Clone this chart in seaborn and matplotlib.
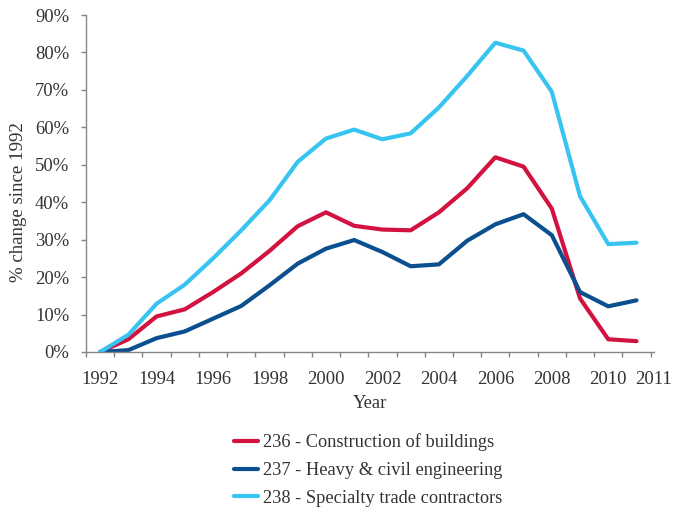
import numpy as np
import pandas as pd
import matplotlib
matplotlib.use('Agg')
import matplotlib.pyplot as plt
import seaborn as sns

# data (percent change since 1992)
years = list(range(1992, 2012))
construction = [0, 3.4, 9.5, 11.4, 16.0, 21.0, 27.0, 33.6, 37.3, 33.7,
                32.7, 32.5, 37.3, 43.7, 52.0, 49.5, 38.3, 14.3, 3.4, 2.9]
heavy_civil = [0, 0.5, 3.7, 5.5, 8.9, 12.3, 17.8, 23.6, 27.6, 29.9,
               26.7, 22.9, 23.4, 29.7, 34.1, 36.8, 31.2, 16.0, 12.2, 13.8]
specialty = [0, 4.6, 12.9, 18.0, 25.0, 32.5, 40.5, 50.8, 57.0, 59.4,
             56.8, 58.4, 65.3, 73.7, 82.6, 80.5, 69.5, 41.6, 28.8, 29.2]

series_names = ['236 - Construction of buildings',
                '237 - Heavy & civil engineering',
                '238 - Specialty trade contractors']
colors = ['#D2123F', '#0B4F8F', '#38C4F0']

df = pd.DataFrame({
    'Year': years * 3,
    'pct': construction + heavy_civil + specialty,
    'series': [series_names[0]] * 20 + [series_names[1]] * 20 + [series_names[2]] * 20,
})

sns.set_style('white')
plt.rcParams['font.family'] = ['Liberation Serif', 'DejaVu Serif']
text_color = '#333333'
axis_color = '#868686'
fs = 13.4

fig = plt.figure(figsize=(6.76, 5.08), dpi=100)
ax = fig.add_axes([86 / 676, 1 - 352 / 508, 568 / 676, 337 / 508])

sns.lineplot(data=df, x='Year', y='pct', hue='series', palette=colors,
             linewidth=3.0, ax=ax, legend=True)

ax.set_xlim(1991.5, 2011.5)
ax.set_ylim(0, 90)

# y axis
ax.set_yticks(np.arange(0, 91, 10))
ax.set_yticklabels([f'{v}%' for v in range(0, 91, 10)])
ax.tick_params(axis='y', which='major', length=3.6, width=1, color=axis_color,
               direction='out', pad=8.5, labelsize=fs, labelcolor=text_color, left=True)

# x axis: tick marks between categories, labels on categories
ax.set_xticks(list(range(1992, 2011, 2)) + [2011.62])
ax.set_xticklabels([str(y) for y in range(1992, 2011, 2)] + ['2011'])
ax.set_xticks(np.arange(1991.5, 2012, 1), minor=True)
ax.tick_params(axis='x', which='major', length=0, pad=14, labelsize=fs,
               labelcolor=text_color)
ax.tick_params(axis='x', which='minor', length=3.6, width=1, color=axis_color,
               direction='out', bottom=True)

for s in ['top', 'right']:
    ax.spines[s].set_visible(False)
for s in ['left', 'bottom']:
    ax.spines[s].set_color(axis_color)
    ax.spines[s].set_linewidth(1)

ax.set_xlabel('Year', fontsize=fs, color=text_color)
ax.xaxis.set_label_coords(0.5, -(395 - 352) / 337)
ax.set_ylabel('% change since 1992', fontsize=13.6, color=text_color)
ax.yaxis.set_label_coords((27 - 86) / 568, (352 - 201.7) / 337)

handles, labels = ax.get_legend_handles_labels()
ax.get_legend().remove()
leg = fig.legend(handles, labels, loc='center', bbox_to_anchor=(0.545, 1 - 470 / 508),
                 frameon=False, fontsize=13.2, handlelength=1.26, handletextpad=0.3,
                 labelspacing=0.58, labelcolor=text_color)
for line in leg.get_lines():
    line.set_linewidth(3.0)

fig.savefig('out.png', dpi=100)
